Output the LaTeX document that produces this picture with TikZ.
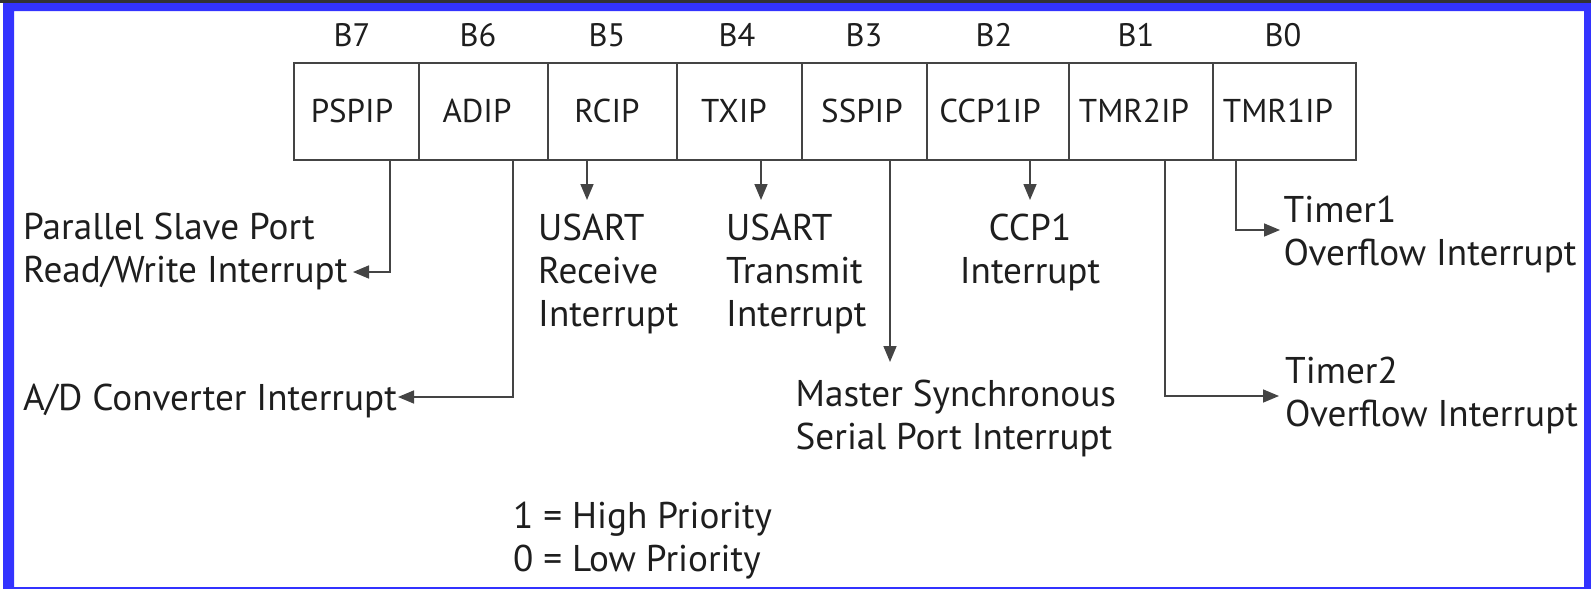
\documentclass[tikz,border=0pt]{standalone}
\usepackage{fontspec}
\setmainfont{PT Sans}
\usetikzlibrary{arrows.meta}
\definecolor{frameblue}{RGB}{51,51,255}
\definecolor{topdark}{RGB}{50,50,55}
\definecolor{ink}{RGB}{30,30,30}
\definecolor{rulegray}{RGB}{68,68,68}
\begin{document}
\begin{tikzpicture}[x=1pt,y=-1pt,
  cellbox/.style={draw=rulegray,line width=2pt,minimum height=97pt,inner sep=0pt,anchor=north west},
  celltxt/.style={font=\fontsize{33}{38}\selectfont,text=ink,inner sep=0pt},
  bitlbl/.style={font=\fontsize{32.5}{38}\selectfont,text=ink,inner sep=0pt},
  note/.style={font=\fontsize{37.2}{43}\selectfont,text=ink,align=left,inner sep=0pt,anchor=base west},
  conn/.style={draw=rulegray,line width=1.6pt},
  arr/.style={conn,-{Triangle[length=16pt,width=13pt]}}]

% page, frame
\useasboundingbox (0,0) rectangle (1591,589);
\fill[white] (0,0) rectangle (1591,589);
\fill[frameblue,even odd rule] (3,3) rectangle (1591,589) (14,11) rectangle (1584,587);
\fill[topdark] (0,0) rectangle (1591,2.7);

% register cells
\node[cellbox,minimum width=125pt] (c7) at (293,62) {};
\node[cellbox,minimum width=129pt] (c6) at (418,62) {};
\node[cellbox,minimum width=129pt] (c5) at (547,62) {};
\node[cellbox,minimum width=125pt] (c4) at (676,62) {};
\node[cellbox,minimum width=125pt] (c3) at (801,62) {};
\node[cellbox,minimum width=142pt] (c2) at (926,62) {};
\node[cellbox,minimum width=144pt] (c1) at (1068,62) {};
\node[cellbox,minimum width=143pt] (c0) at (1212,62) {};

% cell names
\node[celltxt] (t7) at (352,111) {PSPIP};
\node[celltxt] (t6) at (477,111) {ADIP};
\node[celltxt] (t5) at (607,111) {RCIP};
\node[celltxt] (t4) at (734,111) {TXIP};
\node[celltxt] (t3) at (862,111) {SSPIP};
\node[celltxt] (t2) at (990,111) {CCP1IP};
\node[celltxt] (t1) at (1134,111) {TMR2IP};
\node[celltxt] (t0) at (1278,111) {TMR1IP};

% bit numbers
\node[bitlbl] (b7) at (352,35) {B7};
\node[bitlbl] (b6) at (478,35) {B6};
\node[bitlbl] (b5) at (607,35) {B5};
\node[bitlbl] (b4) at (737,35) {B4};
\node[bitlbl] (b3) at (864,35) {B3};
\node[bitlbl] (b2) at (994,35) {B2};
\node[bitlbl] (b1) at (1136,35) {B1};
\node[bitlbl] (b0) at (1283,35) {B0};

% interrupt sources (anchored on the baseline of the last line)
\node[note] (n7) at (23,282) {Parallel Slave Port\\Read/Write Interrupt};
\node[note] (n6) at (23,410) {A/D Converter Interrupt};
\node[note] (n5) at (538,326) {USART\\Receive\\Interrupt};
\node[note] (n4) at (726,326) {USART\\Transmit\\Interrupt};
\node[note,align=center,anchor=base] (n2) at (1030,283) {CCP1\\Interrupt};
\node[note] (n3) at (795.5,449) {Master Synchronous\\Serial Port Interrupt};
\node[note] (n0) at (1283.5,265) {Timer1\\Overflow Interrupt};
\node[note] (n1) at (1285,426) {Timer2\\Overflow Interrupt};
\node[note] (key) at (513,571) {1 = High Priority\\0 = Low Priority};

% connector ends
\coordinate (s7) at (390,160);  \coordinate (e7) at (353,272);
\coordinate (s6) at (513,160);  \coordinate (e6) at (398,397);
\coordinate (s5) at (587,160);  \coordinate (e5) at (587,200);
\coordinate (s4) at (761,160);  \coordinate (e4) at (761,200);
\coordinate (s3) at (890,160);  \coordinate (e3) at (890,362);
\coordinate (s2) at (1030,160); \coordinate (e2) at (1030,200);
\coordinate (s1) at (1165,160); \coordinate (e1) at (1279,396);
\coordinate (s0) at (1236,160); \coordinate (e0) at (1280,230);

% connectors
\draw[arr] (s7) |- (e7);
\draw[arr] (s6) |- (e6);
\draw[arr] (s5) -- (e5);
\draw[arr] (s4) -- (e4);
\draw[arr] (s3) -- (e3);
\draw[arr] (s2) -- (e2);
\draw[arr] (s1) |- (e1);
\draw[arr] (s0) |- (e0);
\end{tikzpicture}
\end{document}
